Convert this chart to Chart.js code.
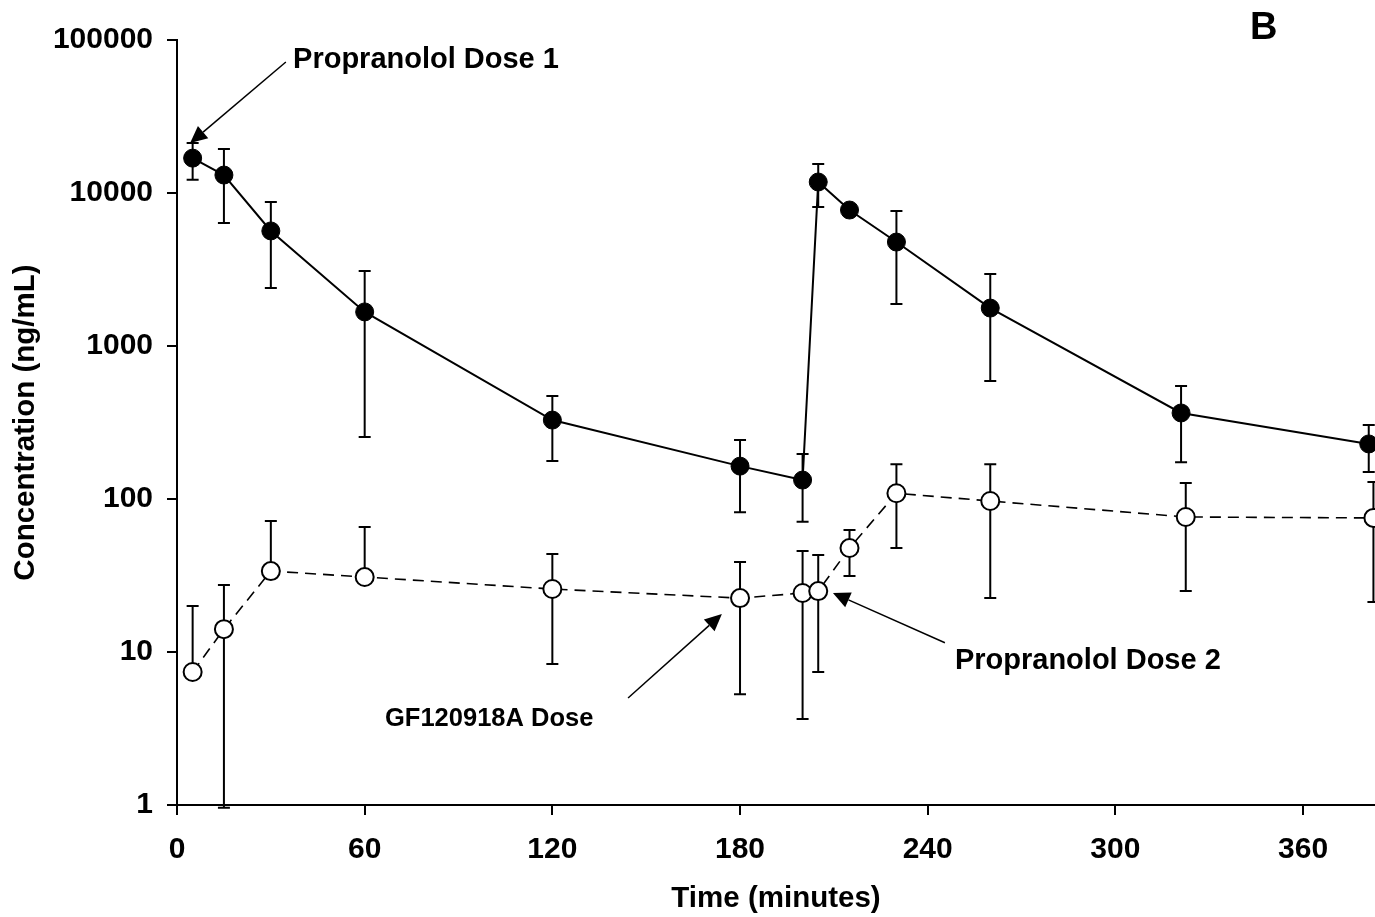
<!DOCTYPE html>
<html>
<head>
<meta charset="utf-8">
<script src="https://cdn.jsdelivr.net/npm/chart.js@4.4.1/dist/chart.umd.min.js"></script>
<style>
  html, body { margin: 0; padding: 0; background: #fff; }
  #wrap { width: 1375px; height: 917px; }
</style>
</head>
<body>
<div id="wrap"><canvas id="myChart" width="1375" height="917"></canvas></div>
<script>
// propranolol (filled circles)
const timesFilled = [5, 15, 30, 60, 120, 180, 200, 205, 215, 230, 260, 321, 381];
const concFilled  = [16900, 13100, 5650, 1670, 328, 164, 133, 11800, 7740, 4780, 1770, 365, 229];
const upperFilled = [21200, 19400, 8730, 3090, 471, 243, 197, 15500, null, 7630, 2955, 548, 305];
const lowerFilled = [12200, 6370, 2390, 254, 177, 82, 71, 8100, null, 1880, 590, 174, 150];

// GF120918A (open circles)
const timesOpen = [5, 15, 30, 60, 120, 180, 200, 205, 215, 230, 260, 322.5, 382.5];
const concOpen  = [7.4, 14.1, 33.8, 30.9, 25.8, 22.5, 24.3, 25, 47.8, 109, 97, 76.3, 75.2];
const upperOpen = [20, 27.4, 71.8, 65.6, 43.7, 38.7, 45.7, 43, 62.7, 169, 169, 127, 129];
const lowerOpen = [null, 0.96, null, null, 8.35, 5.3, 3.65, 7.4, 31.4, 47.8, 22.5, 25, 21.2];

// tick labels
const xTicks = [0, 60, 120, 180, 240, 300, 360];
const yTicks = [1, 10, 100, 1000, 10000, 100000];

// annotations, in data units (minutes, ng/mL)
const notes = [
  { text: "Propranolol Dose 1", x: 37.1, y: 74000, size: 29, from: [34.8, 71800], to: [4.2, 21200] },
  { text: "Propranolol Dose 2", x: 248.7, y: 8.7, size: 29, from: [245.5, 11.5], to: [209.7, 24.3] },
  { text: "GF120918A Dose", x: 66.5, y: 3.65, size: 25.5, from: [144.2, 5.0], to: [174.2, 17.7] }
];

const FONT = "'Liberation Sans', Arial, sans-serif";

function toXY(data, xs) {
  return data.map((v, i) => ({ x: xs[i], y: v }));
}

// error bars drawn under the points
const errorBars = {
  id: "errorBars",
  beforeDatasetsDraw(chart) {
    const ctx = chart.ctx;
    const xs = chart.scales.x, ys = chart.scales.y;
    const sets = [
      [timesFilled, concFilled, upperFilled, lowerFilled],
      [timesOpen, concOpen, upperOpen, lowerOpen]
    ];
    ctx.save();
    ctx.strokeStyle = "#000";
    ctx.lineWidth = 2;
    sets.forEach(s => {
      s[0].forEach((t, i) => {
        const px = xs.getPixelForValue(t);
        const py = ys.getPixelForValue(s[1][i]);
        [s[2][i], s[3][i]].forEach(e => {
          if (e == null) return;
          const ey = ys.getPixelForValue(e);
          ctx.beginPath();
          ctx.moveTo(px, py);
          ctx.lineTo(px, ey);
          ctx.moveTo(px - 6, ey);
          ctx.lineTo(px + 6, ey);
          ctx.stroke();
        });
      });
    });
    ctx.restore();
  }
};

// labels with arrows + panel letter
const annotations = {
  id: "annotations",
  afterDraw(chart) {
    const ctx = chart.ctx;
    const xs = chart.scales.x, ys = chart.scales.y;
    ctx.save();
    ctx.fillStyle = "#000";
    ctx.strokeStyle = "#000";
    ctx.textBaseline = "middle";
    ctx.textAlign = "left";
    notes.forEach(n => {
      ctx.font = "bold " + n.size + "px " + FONT;
      ctx.fillText(n.text, xs.getPixelForValue(n.x), ys.getPixelForValue(n.y));
      const x1 = xs.getPixelForValue(n.from[0]), y1 = ys.getPixelForValue(n.from[1]);
      const x2 = xs.getPixelForValue(n.to[0]), y2 = ys.getPixelForValue(n.to[1]);
      const a = Math.atan2(y2 - y1, x2 - x1);
      const len = 17, w = 8;
      const bx = x2 - len * Math.cos(a), by = y2 - len * Math.sin(a);
      ctx.lineWidth = 1.5;
      ctx.beginPath();
      ctx.moveTo(x1, y1);
      ctx.lineTo(bx, by);
      ctx.stroke();
      ctx.beginPath();
      ctx.moveTo(x2, y2);
      ctx.lineTo(bx + w * Math.sin(a), by - w * Math.cos(a));
      ctx.lineTo(bx - w * Math.sin(a), by + w * Math.cos(a));
      ctx.closePath();
      ctx.fill();
    });
    ctx.font = "bold 38px " + FONT;
    ctx.fillText("B", 1250, 29);
    ctx.restore();
  }
};

const config = {
  type: "line",
  data: {
    datasets: [
      {
        label: "Propranolol",
        data: toXY(concFilled, timesFilled),
        borderColor: "#000",
        borderWidth: 2,
        backgroundColor: "#000",
        pointRadius: 9,
        pointBorderWidth: 1,
        pointBorderColor: "#000",
        pointBackgroundColor: "#000",
        tension: 0,
        clip: false
      },
      {
        label: "GF120918A",
        data: toXY(concOpen, timesOpen),
        borderColor: "#000",
        borderWidth: 1.6,
        borderDash: [11, 7],
        pointRadius: 9,
        pointBorderWidth: 2,
        pointBorderColor: "#000",
        pointBackgroundColor: "#fff",
        tension: 0,
        clip: false
      }
    ]
  },
  options: {
    responsive: false,
    animation: false,
    devicePixelRatio: 1,
    layout: { autoPadding: false, padding: { top: 40, right: 0, left: 0, bottom: 0 } },
    plugins: {
      legend: { display: false },
      tooltip: { enabled: false }
    },
    scales: {
      x: {
        type: "linear",
        min: 0,
        max: 383,
        afterBuildTicks: s => { s.ticks = xTicks.map(v => ({ value: v })); },
        afterFit: s => { s.height = 112; s.paddingRight = 0; },
        border: { display: true, color: "#000", width: 2 },
        grid: { drawOnChartArea: false, drawTicks: true, tickLength: 10, color: "#000", lineWidth: 2 },
        ticks: {
          color: "#000",
          padding: 17,
          maxRotation: 0,
          font: { family: FONT, size: 30, weight: "bold" }
        },
        title: {
          display: true,
          text: "Time (minutes)",
          color: "#000",
          padding: { top: 6, bottom: 0 },
          font: { family: FONT, size: 29.5, weight: "bold" }
        }
      },
      y: {
        type: "logarithmic",
        min: 1,
        max: 100000,
        afterBuildTicks: s => { s.ticks = yTicks.map(v => ({ value: v, major: true })); },
        afterFit: s => { s.width = 177; },
        border: { display: true, color: "#000", width: 2 },
        grid: { drawOnChartArea: false, drawTicks: true, tickLength: 10, color: "#000", lineWidth: 2 },
        ticks: {
          color: "#000",
          padding: 14,
          callback: v => String(v),
          font: { family: FONT, size: 30, weight: "bold" }
        },
        title: {
          display: true,
          text: "Concentration (ng/mL)",
          color: "#000",
          padding: { top: 8, bottom: 0 },
          font: { family: FONT, size: 29.5, weight: "bold" }
        }
      }
    }
  },
  plugins: [errorBars, annotations]
};

const myChart = new Chart(document.getElementById("myChart"), config);
</script>
</body>
</html>
